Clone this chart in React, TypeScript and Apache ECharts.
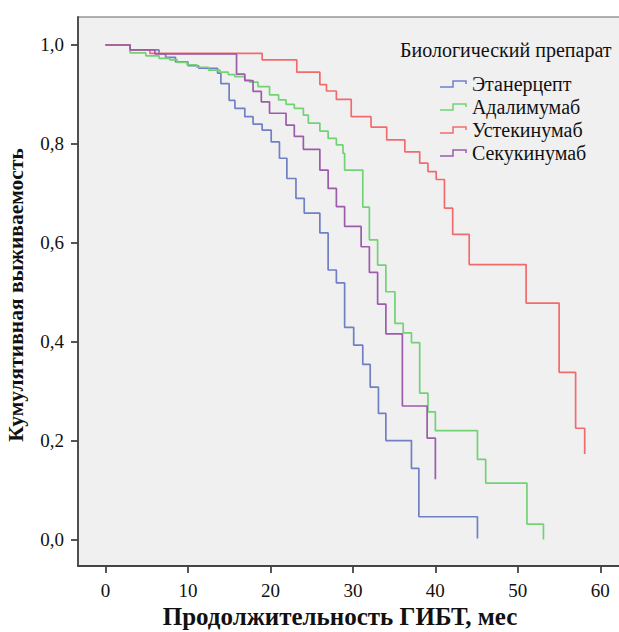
import React, { useEffect, useRef } from "react";
import * as echarts from "echarts";

// Kaplan–Meier curves: event times (months) and cumulative survival after each step
const drugNames = ["Этанерцепт", "Адалимумаб", "Устекинумаб", "Секукинумаб"];

const etanerceptTime = [0, 3, 6.5, 7.3, 8.5, 10, 11.3, 13.6, 14.0, 15.0, 15.7, 16.9, 17.9, 19.0, 20.1, 21.1, 22.0, 23.1, 24.1, 26.0, 27.0, 28.0, 29.0, 30.1, 31.2, 32.1, 33.1, 34.0, 37.1, 38.0, 45.1];
const etanerceptSurv = [1.0, 0.99, 0.982, 0.975, 0.966, 0.958, 0.953, 0.943, 0.922, 0.888, 0.872, 0.855, 0.84, 0.828, 0.804, 0.771, 0.73, 0.69, 0.66, 0.62, 0.545, 0.519, 0.429, 0.393, 0.354, 0.308, 0.255, 0.2, 0.144, 0.046, 0.002];

const adalimumabTime = [0, 3, 4.9, 6.5, 7.8, 8.7, 9.9, 11.1, 12.5, 13.9, 14.9, 15.7, 16.9, 17.5, 18.5, 19.9, 21.0, 21.9, 22.9, 24.0, 24.6, 26.0, 27.0, 28.0, 28.8, 29.0, 31.2, 32.0, 33.0, 34.0, 35.1, 36.1, 37.1, 38.1, 39.1, 40.0, 45.1, 46.1, 51.1, 53.1];
const adalimumabSurv = [1.0, 0.984, 0.978, 0.973, 0.97, 0.965, 0.96, 0.955, 0.949, 0.945, 0.94, 0.936, 0.929, 0.925, 0.916, 0.899, 0.889, 0.88, 0.872, 0.858, 0.842, 0.826, 0.811, 0.798, 0.781, 0.747, 0.672, 0.606, 0.555, 0.501, 0.437, 0.418, 0.398, 0.296, 0.258, 0.22, 0.162, 0.114, 0.031, 0.0];

const ustekinumabTime = [0, 3, 5.4, 19.0, 23.2, 26.0, 26.8, 28.0, 29.8, 32.2, 34.1, 36.3, 38.1, 39.1, 40.1, 41.1, 42.1, 44.1, 51.0, 55.0, 57.0, 58.1];
const ustekinumabSurv = [1.0, 0.99, 0.983, 0.97, 0.945, 0.92, 0.907, 0.89, 0.855, 0.834, 0.808, 0.784, 0.761, 0.744, 0.728, 0.67, 0.617, 0.556, 0.478, 0.338, 0.225, 0.173];

const secukinumabTime = [0, 3, 6.0, 15.9, 16.9, 17.9, 18.9, 19.9, 21.9, 22.9, 24.0, 26.0, 27.0, 28.0, 29.0, 31.0, 32.0, 33.0, 34.0, 36.0, 39.0, 40.0];
const secukinumabSurv = [1.0, 0.99, 0.982, 0.941, 0.928, 0.906, 0.885, 0.862, 0.838, 0.815, 0.789, 0.747, 0.71, 0.673, 0.633, 0.592, 0.54, 0.476, 0.416, 0.27, 0.205, 0.122];

const xTicks = [0, 10, 20, 30, 40, 50, 60];
const yTicks = [0, 0.2, 0.4, 0.6, 0.8, 1.0];

const curveColors = ["#7080c4", "#72d276", "#f06c6c", "#9c5cab"];

const legendTitle = "Биологический препарат";
const xTitle = "Продолжительность ГИБТ, мес";
const yTitle = "Кумулятивная выживаемость";

const SERIF = "Liberation Serif";

// thin step glyph used as legend marker
const stepIcon =
  "path://M0,6.25 L12.25,6.25 L12.25,0.25 L26.75,0.25 L26.75,4 L25.25,4 L25.25,1.75 L13.75,1.75 L13.75,7.75 L0,7.75 Z";

const pairs = (t: number[], s: number[]) => t.map((v, i) => [v, s[i]]);

export default function App() {
  const ref = useRef<HTMLDivElement>(null);

  useEffect(() => {
    if (!ref.current) return;
    const chart = echarts.init(ref.current, null, { renderer: "svg" });

    const curves = [
      pairs(etanerceptTime, etanerceptSurv),
      pairs(adalimumabTime, adalimumabSurv),
      pairs(ustekinumabTime, ustekinumabSurv),
      pairs(secukinumabTime, secukinumabSurv),
    ];

    chart.setOption({
      animation: false,
      textStyle: { fontFamily: SERIF },
      grid: {
        left: 78,
        top: 17,
        right: 12,
        bottom: 66,
        show: true,
        backgroundColor: "#f0f0f0",
        borderColor: "#666",
        borderWidth: 1,
        outerBoundsMode: "none",
      },
      xAxis: {
        type: "value",
        min: -3.32,
        max: 63.35,
        splitLine: { show: false },
        axisLine: { show: true, onZero: false, lineStyle: { color: "#444", width: 1.8 } },
        axisTick: {
          show: true,
          length: 7,
          customValues: xTicks,
          lineStyle: { color: "#444", width: 1.8 },
        },
        axisLabel: {
          customValues: xTicks,
          margin: 15,
          fontFamily: SERIF,
          fontSize: 19,
          color: "#111",
        },
      },
      yAxis: {
        type: "value",
        min: -0.0536,
        max: 1.0566,
        splitLine: { show: false },
        axisLine: { show: true, onZero: false, lineStyle: { color: "#444", width: 1.8 } },
        axisTick: {
          show: true,
          length: 7,
          customValues: yTicks,
          lineStyle: { color: "#444", width: 1.8 },
        },
        axisLabel: {
          customValues: yTicks,
          margin: 14,
          fontFamily: SERIF,
          fontSize: 19,
          color: "#111",
          formatter: (v: number) => v.toFixed(1).replace(".", ","),
        },
      },
      legend: {
        orient: "vertical",
        left: 435,
        top: 69,
        itemWidth: 27,
        itemHeight: 7.5,
        itemGap: 3,
        icon: stepIcon,
        itemStyle: { borderWidth: 0 },
        textStyle: {
          fontFamily: SERIF,
          fontSize: 20,
          lineHeight: 20,
          color: "#111",
        },
        data: drugNames,
      },
      graphic: [
        {
          type: "text",
          x: 400,
          y: 50,
          style: {
            text: legendTitle,
            fontFamily: SERIF,
            fontSize: 20,
            fill: "#111",
            align: "left",
            verticalAlign: "middle",
          },
        },
        {
          type: "text",
          x: 340,
          y: 616,
          style: {
            text: xTitle,
            fontFamily: SERIF,
            fontSize: 25,
            fontWeight: "bold",
            fill: "#111",
            align: "center",
            verticalAlign: "middle",
          },
        },
        {
          type: "text",
          x: 16,
          y: 295,
          rotation: Math.PI / 2,
          style: {
            text: yTitle,
            fontFamily: SERIF,
            fontSize: 21.5,
            fontWeight: "bold",
            fill: "#111",
            align: "center",
            verticalAlign: "middle",
          },
        },
      ],
      series: drugNames.map((name, i) => ({
        name,
        type: "line",
        step: "end",
        showSymbol: false,
        symbol: "none",
        color: curveColors[i],
        itemStyle: { color: curveColors[i] },
        lineStyle: { color: curveColors[i], width: 1.7 },
        data: curves[i],
      })),
    });

    return () => chart.dispose();
  }, []);

  return (
    <div
      style={{
        position: "absolute",
        left: 0,
        top: 0,
        width: 619,
        height: 632,
        overflow: "hidden",
        background: "#fff",
      }}
    >
      <div ref={ref} style={{ width: 640, height: 632 }} />
    </div>
  );
}
